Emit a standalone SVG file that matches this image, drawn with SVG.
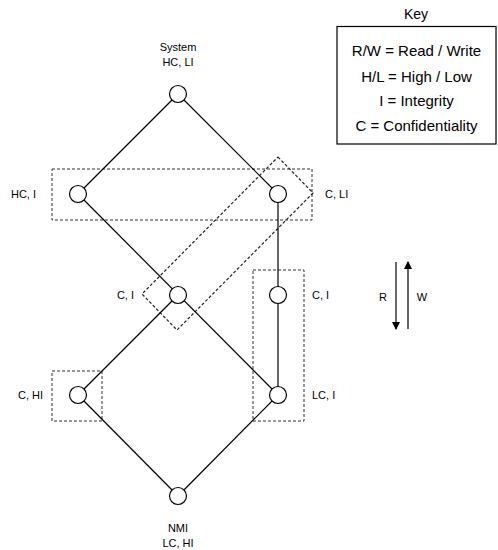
<svg xmlns="http://www.w3.org/2000/svg" width="498" height="550" viewBox="0 0 498 550">
<style>
text{font-family:"Liberation Sans",Arial,sans-serif;fill:#000}
.lbl{font-size:11px}
.key{font-size:15px;text-anchor:middle}
.edge{stroke:#000;stroke-width:1.2;fill:none}
.grp{stroke:#333;stroke-width:1;stroke-dasharray:3,2;fill:none}
.node circle{fill:#fff;stroke:#000;stroke-width:1.2}
</style>
<defs>
<marker id="ah" markerWidth="8" markerHeight="10" refX="7" refY="5" orient="auto" markerUnits="userSpaceOnUse">
<path d="M0,1 L8,5 L0,9 Z" fill="#000"/>
</marker>
</defs>
<g id="groups">
<rect class="grp" x="52" y="169" width="260" height="51"/>
<polygon class="grp" points="278,157 313,193 177,330 142,294" style="stroke:#222;stroke-width:1.2"/>
<rect class="grp" x="253" y="270" width="51" height="151"/>
<rect class="grp" x="52" y="371" width="50" height="50"/>
</g>
<g id="connectors">
<line class="edge" x1="178" y1="94" x2="78" y2="194"/>
<line class="edge" x1="178" y1="94" x2="278" y2="194"/>
<line class="edge" x1="78" y1="194" x2="278" y2="395"/>
<line class="edge" x1="278" y1="194" x2="278" y2="395"/>
<line class="edge" x1="78" y1="395" x2="178" y2="295"/>
<line class="edge" x1="78" y1="395" x2="178" y2="496"/>
<line class="edge" x1="278" y1="395" x2="178" y2="496"/>
<line class="edge" x1="396" y1="262" x2="396" y2="329" marker-end="url(#ah)"/>
<line class="edge" x1="408" y1="329" x2="408" y2="262" marker-end="url(#ah)"/>
</g>
<g id="n-system" class="node"><circle cx="178" cy="94" r="8.5"/>
<text class="lbl" x="178" y="51" text-anchor="middle">System</text>
<text class="lbl" x="178" y="66" text-anchor="middle">HC, LI</text></g>
<g id="n-hci" class="node"><circle cx="78" cy="194" r="8.5"/><text class="lbl" x="36" y="198" text-anchor="end">HC, I</text></g>
<g id="n-cli" class="node"><circle cx="278" cy="194" r="8.5"/><text class="lbl" x="325" y="198">C, LI</text></g>
<g id="n-ci-mid" class="node"><circle cx="178" cy="295" r="8.5"/><text class="lbl" x="134" y="299" text-anchor="end">C, I</text></g>
<g id="n-ci-right" class="node"><circle cx="278" cy="295" r="8.5"/><text class="lbl" x="312" y="299">C, I</text></g>
<g id="n-chi" class="node"><circle cx="78" cy="395" r="8.5"/><text class="lbl" x="43" y="399" text-anchor="end">C, HI</text></g>
<g id="n-lci" class="node"><circle cx="278" cy="395" r="8.5"/><text class="lbl" x="312" y="399">LC, I</text></g>
<g id="n-nmi" class="node"><circle cx="178" cy="496" r="8.5"/>
<text class="lbl" x="178" y="532" text-anchor="middle">NMI</text>
<text class="lbl" x="178" y="547" text-anchor="middle">LC, HI</text></g>
<g id="rw-labels">
<text class="lbl" x="383" y="301" text-anchor="middle">R</text>
<text class="lbl" x="422" y="301" text-anchor="middle">W</text>
</g>
<g id="key">
<text x="416" y="19" font-size="14" text-anchor="middle">Key</text>
<rect x="337" y="26.5" width="159" height="117.5" fill="none" stroke="#000" stroke-width="1.2"/>
<text class="key" x="416.5" y="56">R/W = Read / Write</text>
<text class="key" x="416.5" y="82">H/L = High / Low</text>
<text class="key" x="416.5" y="106">I = Integrity</text>
<text class="key" x="416.5" y="131">C = Confidentiality</text>
</g>
</svg>
